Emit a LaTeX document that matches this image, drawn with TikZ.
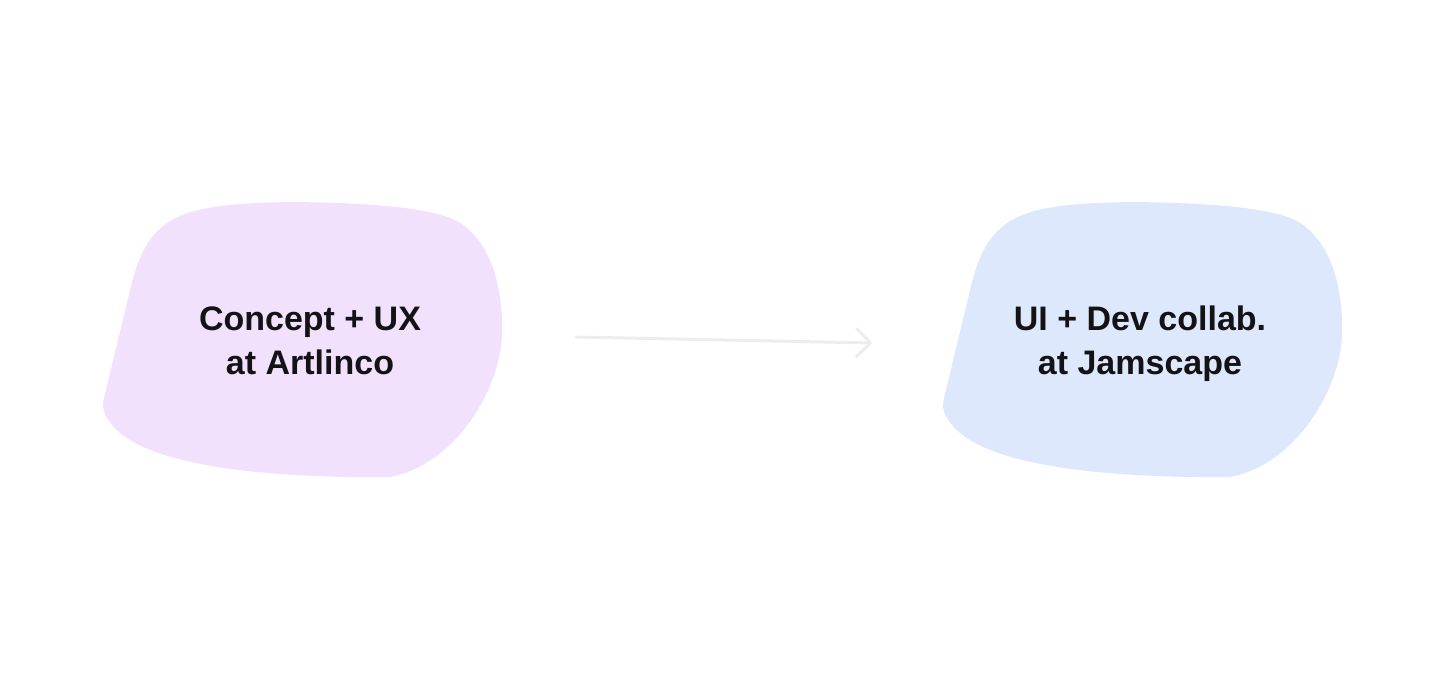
\documentclass[tikz,border=0pt]{standalone}
\usepackage{fontspec}
\setmainfont{Liberation Sans}
\usetikzlibrary{arrows.meta}
\definecolor{lilac}{HTML}{F1E1FD}
\definecolor{sky}{HTML}{DEE8FC}
\definecolor{ink}{HTML}{151216}
\definecolor{paleline}{HTML}{EDEDED}

\begin{document}
\begin{tikzpicture}[x=1pt, y=-1pt,
    blobtext/.style={align=center, text=ink,
        font=\fontsize{34}{44}\selectfont\bfseries},
    flow/.style={-{Straight Barb[length=14pt, width=28pt, round]},
        line width=3pt, paleline, line cap=round}]
  \useasboundingbox (0,0) rectangle (1447,680);

  % the two blobs
  \foreach \dx/\c in {0/lilac, 840/sky}
    \fill[\c, shift={(\dx,0)}] (104,398) -- (132,282)
      .. controls (150,215) and (180,204) .. (290,202)
      .. controls (400,203) and (445,212) .. (462,224)
      .. controls (495,248) and (503,295) .. (502,335)
      .. controls (500,390) and (455,465) .. (390,477)
      .. controls (300,478) and (150,472) .. (112,425)
      .. controls (102,413) and (102,405) .. cycle;

  \node[blobtext] (concept) at (310,341) {Concept + UX\\at Artlinco};
  \node[blobtext] (uidev) at (1140,344) {UI + Dev collab.\\at Jamscape};

  \coordinate (from) at (576,337);
  \coordinate (to) at (872,343);
  \draw[flow] (from) -- (to);
\end{tikzpicture}
\end{document}
